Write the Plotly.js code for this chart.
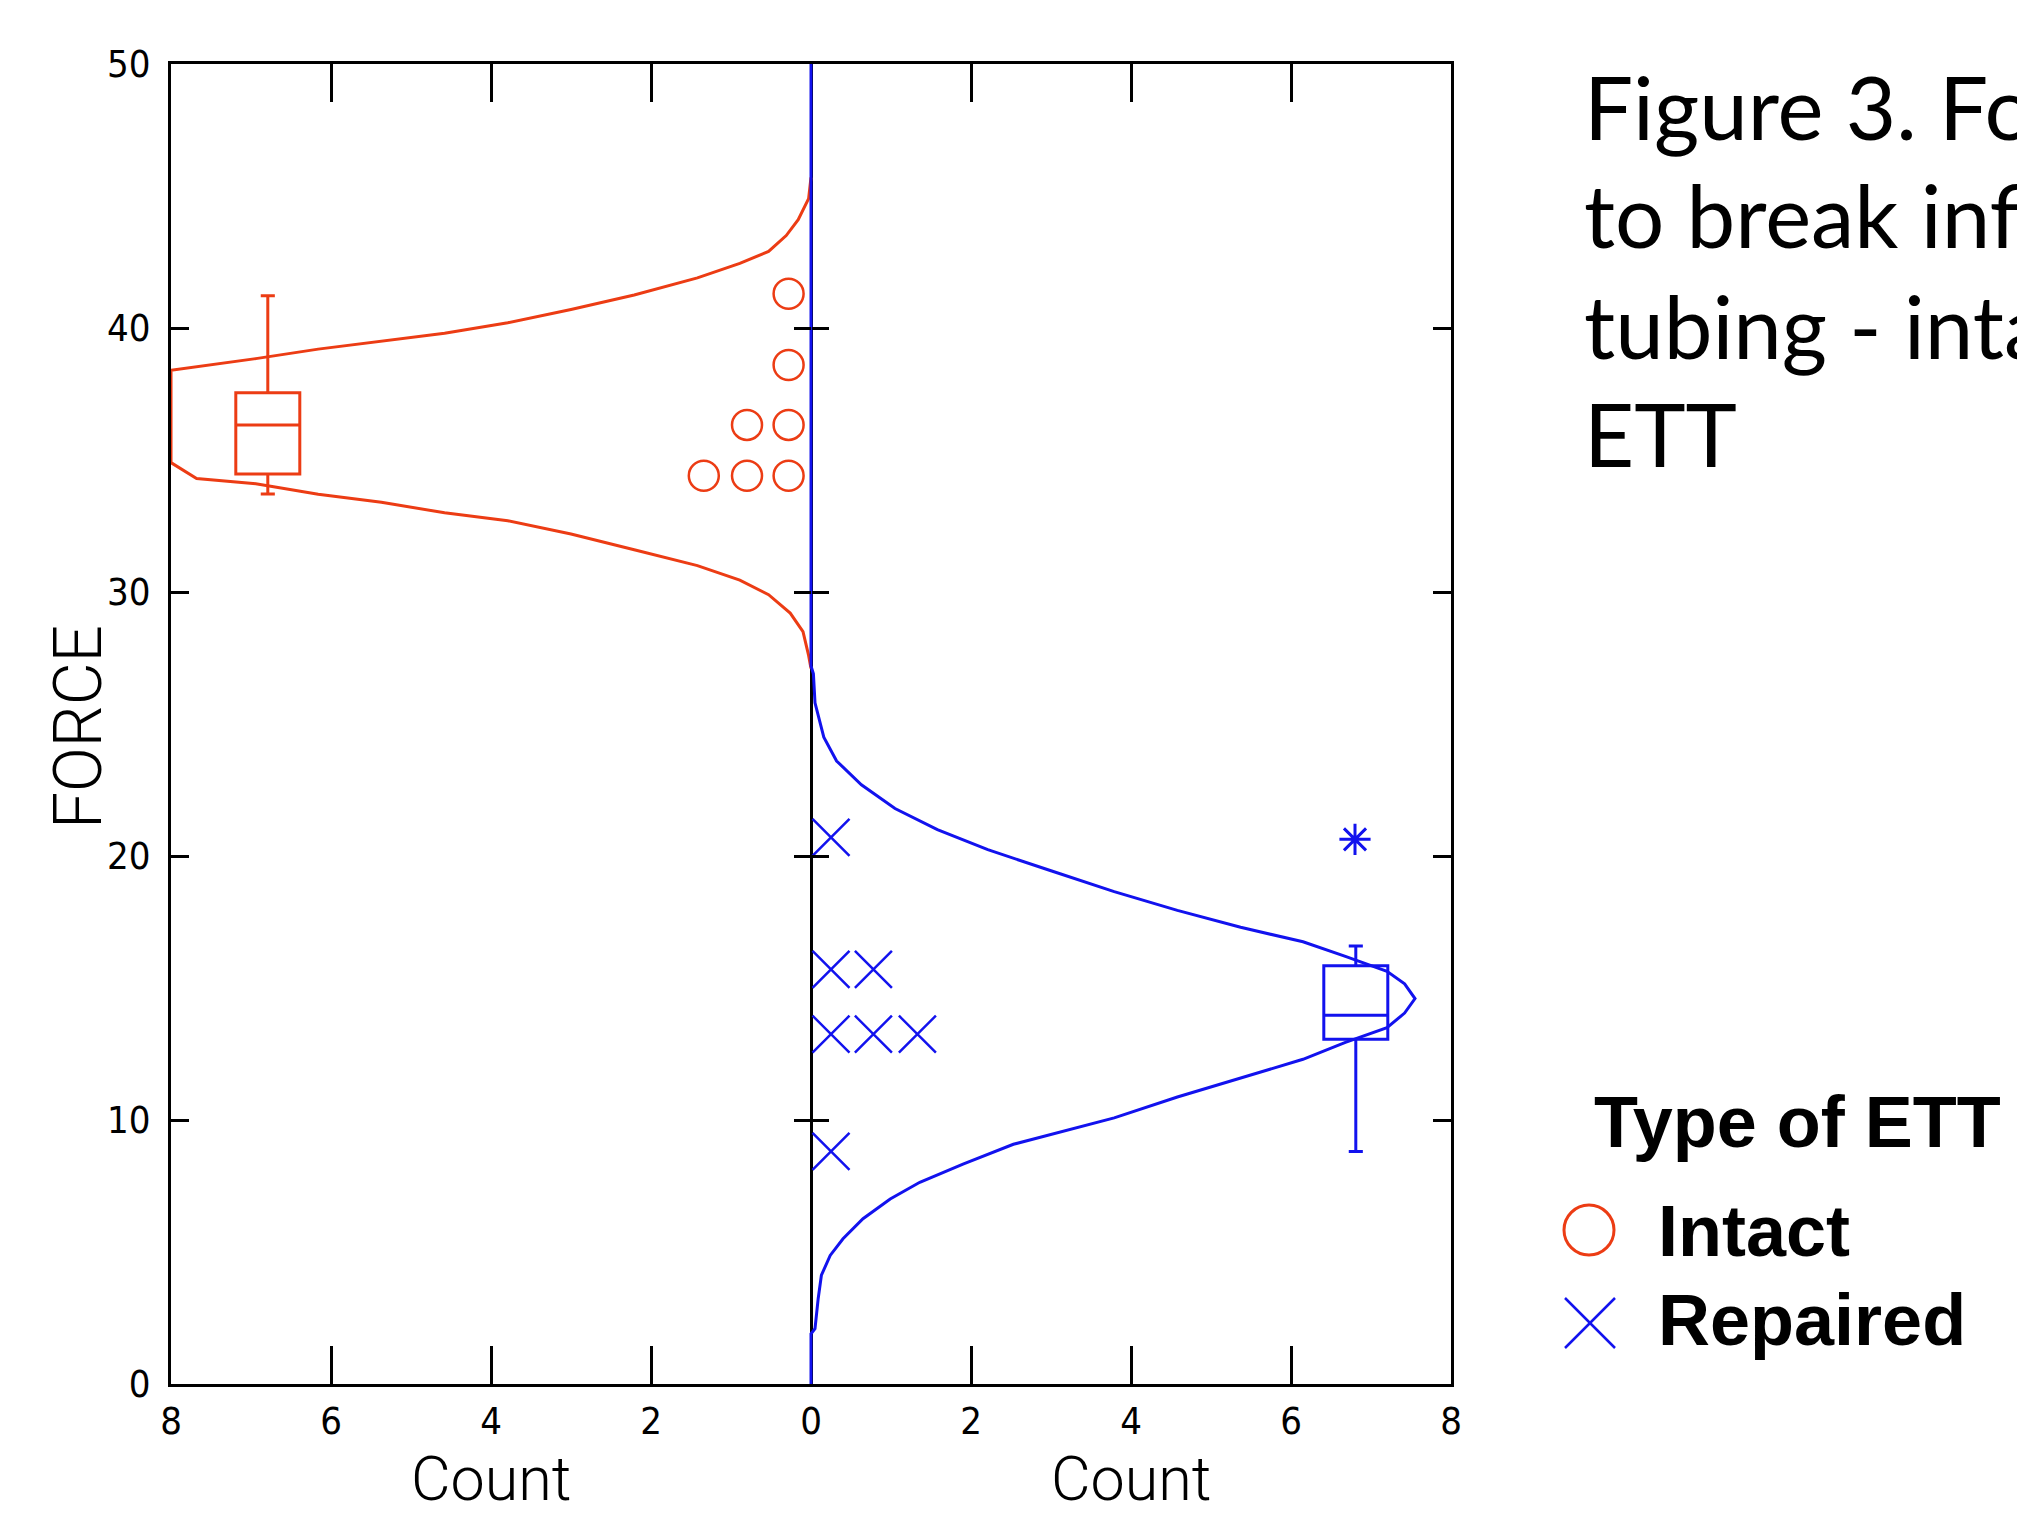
<!DOCTYPE html>
<html>
<head>
<meta charset="utf-8">
<script src="https://cdn.plot.ly/plotly-3.0.1.min.js"></script>
<style>
html,body{margin:0;padding:0;background:#fff;}
#chart{width:2017px;height:1513px;}
</style>
</head>
<body>
<div id="chart"></div>
<script>
// ---------------- data ----------------
// Intact ETT (left half, counts grow to the left)
const intactDotForce = [41.3, 38.6, 36.33, 36.33, 34.4, 34.4, 34.4];
const intactDotCount = [0.28, 0.28, 0.28, 0.80, 0.28, 0.80, 1.34];
const intactCurveCount = [0, 0.03, 0.16, 0.31, 0.53, 0.89, 1.42, 2.21, 3.00, 3.79, 4.58, 5.37, 6.16, 6.94, 8.00,
                          8.00, 7.68, 6.94, 6.16, 5.37, 4.58, 3.79, 3.00, 2.21, 1.42, 0.89, 0.53, 0.26, 0.10, 0.03, 0];
const intactCurveForce = [45.7, 44.9, 44.1, 43.5, 42.9, 42.45, 41.9, 41.25, 40.7, 40.2, 39.8, 39.5, 39.2, 38.84, 38.4,
                          34.9, 34.3, 34.1, 33.7, 33.4, 33.0, 32.7, 32.2, 31.6, 31.0, 30.45, 29.9, 29.2, 28.5, 27.6, 27.1];
const intactBoxPos = 6.79;
const intactBox = {lowerfence: 33.71, q1: 34.47, median: 36.33, q3: 37.55, upperfence: 41.22};

// Repaired ETT (right half)
const repairedDotForce = [20.71, 15.71, 15.71, 13.25, 13.25, 13.25, 8.81];
const repairedDotCount = [0.25, 0.25, 0.78, 0.25, 0.78, 1.33, 0.25];
const repairedCurveCount = [0, 0, 0.03, 0.05, 0.16, 0.32, 0.63, 1.05, 1.58, 2.21, 3.00, 3.79, 4.58, 5.37, 6.15, 6.68,
                            7.20, 7.42, 7.55, 7.42, 7.20, 6.68, 6.15, 5.37, 4.58, 3.79, 3.00, 2.53, 1.90, 1.36, 0.99,
                            0.65, 0.40, 0.24, 0.13, 0.09, 0.05, 0, 0];
const repairedCurveForce = [50, 27.2, 26.9, 25.8, 24.5, 23.6, 22.7, 21.8, 21.0, 20.24, 19.44, 18.65, 17.94, 17.3, 16.75, 16.2,
                            15.63, 15.16, 14.6, 14.05, 13.5, 12.94, 12.3, 11.59, 10.87, 10.08, 9.45, 9.08, 8.33, 7.64, 7.01,
                            6.26, 5.5, 4.87, 4.12, 3.24, 2.1, 1.9, 0];
const repairedBoxPos = 6.81;
const repairedBox = {lowerfence: 8.81, q1: 13.06, median: 13.97, q3: 15.84, upperfence: 16.59};
const repairedOutlierCount = [6.80];
const repairedOutlierForce = [20.63];

// axis ticks
const countTickVals = [-8, -6, -4, -2, 0, 2, 4, 6, 8];
const countTickText = ['8', '6', '4', '2', '0', '2', '4', '6', '8'];
const forceTickVals = [0, 10, 20, 30, 40, 50];
const innerForceTicks = [10, 20, 30, 40];

const captionLines = ['Figure 3. Force', 'to break inflation', 'tubing - intact vs. repaired', 'ETT'];
const legendTitle = 'Type of ETT';
const groupNames = ['Intact', 'Repaired'];
const yTitle = 'FORCE';
const xTitle = 'Count';

// ---------------- styling ----------------
const RED = '#EC3C14';
const BLUE = '#1212EE';
const L = 171, R = 1451, T = 64, B = 1384;
const px = v => (v - L) / (R - L);
const py = v => (B - v) / (B - T);
const neg = a => a.map(v => -v);

const traces = [
  { type: 'scatter', mode: 'lines', name: 'Intact curve',
    x: neg(intactCurveCount), y: intactCurveForce,
    line: {color: RED, width: 3}, hoverinfo: 'skip', showlegend: false },
  { type: 'scatter', mode: 'lines', name: 'Repaired curve',
    x: repairedCurveCount, y: repairedCurveForce,
    line: {color: BLUE, width: 3}, hoverinfo: 'skip', showlegend: false },
  { type: 'box', name: 'Intact box', x: [-intactBoxPos],
    q1: [intactBox.q1], median: [intactBox.median], q3: [intactBox.q3],
    lowerfence: [intactBox.lowerfence], upperfence: [intactBox.upperfence],
    width: 0.8, whiskerwidth: 0.22, boxpoints: false,
    line: {color: RED, width: 3}, fillcolor: 'rgba(0,0,0,0)', showlegend: false, hoverinfo: 'skip' },
  { type: 'box', name: 'Repaired box', x: [repairedBoxPos],
    q1: [repairedBox.q1], median: [repairedBox.median], q3: [repairedBox.q3],
    lowerfence: [repairedBox.lowerfence], upperfence: [repairedBox.upperfence],
    width: 0.8, whiskerwidth: 0.22, boxpoints: false,
    line: {color: BLUE, width: 3}, fillcolor: 'rgba(0,0,0,0)', showlegend: false, hoverinfo: 'skip' },
  { type: 'scatter', mode: 'markers', name: groupNames[0],
    x: neg(intactDotCount), y: intactDotForce,
    marker: {symbol: 'circle-open', size: 30, color: RED, line: {color: RED, width: 2.5}},
    showlegend: false },
  { type: 'scatter', mode: 'markers', name: groupNames[1],
    x: repairedDotCount, y: repairedDotForce,
    marker: {symbol: 'x-thin-open', size: 37, color: BLUE, line: {color: BLUE, width: 2.5}},
    showlegend: false },
  { type: 'scatter', mode: 'markers', name: 'Repaired outlier',
    x: repairedOutlierCount, y: repairedOutlierForce,
    marker: {symbol: 'asterisk-open', size: 26, color: BLUE, line: {color: BLUE, width: 3}},
    showlegend: false },
  // empty traces so the centre tick axes exist
  { type: 'scatter', x: [], y: [], yaxis: 'y2', showlegend: false, hoverinfo: 'skip' },
  { type: 'scatter', x: [], y: [], yaxis: 'y3', showlegend: false, hoverinfo: 'skip' }
];

const tickFont = {family: 'Liberation Sans Narrow, DejaVu Sans Condensed, Liberation Sans, Arial, sans-serif', size: 38, color: '#000'};
const titleFont = {family: 'Roboto, Liberation Sans, sans-serif', size: 61, color: '#000', weight: 300};
const legendFont = {family: 'Liberation Sans, Arial, sans-serif', size: 72, color: '#000', weight: 'bold'};

const centreAxis = (ticks) => ({
  overlaying: 'y', anchor: 'free', position: 0.5, side: 'left',
  range: [0, 50], tickvals: innerForceTicks, ticks: ticks, ticklen: 17, tickwidth: 3, tickcolor: '#000',
  showticklabels: false, showline: false, showgrid: false, zeroline: false, fixedrange: true
});

const annotations = [
  {text: xTitle, xref: 'x', yref: 'paper', x: -4, y: py(1479), xanchor: 'center', yanchor: 'middle',
   showarrow: false, font: titleFont},
  {text: xTitle, xref: 'x', yref: 'paper', x: 4, y: py(1479), xanchor: 'center', yanchor: 'middle',
   showarrow: false, font: titleFont},
  {text: yTitle, xref: 'paper', yref: 'paper', x: px(79), y: py(727), xanchor: 'center', yanchor: 'middle',
   textangle: -90, showarrow: false, font: {family: 'Roboto, Liberation Sans, sans-serif', size: 66, color: '#000', weight: 300}},
  {text: legendTitle, xref: 'paper', yref: 'paper', x: px(1592), y: py(1122), xanchor: 'left', yanchor: 'middle',
   showarrow: false, font: legendFont},
  {text: groupNames[0], xref: 'paper', yref: 'paper', x: px(1656), y: py(1231), xanchor: 'left', yanchor: 'middle',
   showarrow: false, font: legendFont},
  {text: groupNames[1], xref: 'paper', yref: 'paper', x: px(1656), y: py(1320), xanchor: 'left', yanchor: 'middle',
   showarrow: false, font: legendFont}
];
const captionCentres = [106, 215, 325, 433];
captionLines.forEach((t, i) => annotations.push({
  text: t, xref: 'paper', yref: 'paper', x: px(1582), y: py(captionCentres[i]), xanchor: 'left', yanchor: 'middle',
  showarrow: false, font: {family: 'Lato, Open Sans, sans-serif', size: 87, color: '#000'}
}));

const shapes = [
  {type: 'circle', xref: 'paper', yref: 'paper', x0: px(1564), x1: px(1614), y0: py(1255), y1: py(1205),
   line: {color: RED, width: 3}},
  {type: 'line', xref: 'paper', yref: 'paper', x0: px(1565), x1: px(1615), y0: py(1298), y1: py(1348),
   line: {color: BLUE, width: 2.5}},
  {type: 'line', xref: 'paper', yref: 'paper', x0: px(1565), x1: px(1615), y0: py(1348), y1: py(1298),
   line: {color: BLUE, width: 2.5}}
];

const layout = {
  width: 2017, height: 1513,
  margin: {l: L, r: 2017 - R, t: T, b: 1513 - B, pad: 0},
  paper_bgcolor: '#fff', plot_bgcolor: '#fff',
  showlegend: false,
  xaxis: {
    range: [-8, 8], tickvals: countTickVals, ticktext: countTickText,
    ticks: 'inside', ticklen: 38, tickwidth: 3, tickcolor: '#000',
    showline: true, linewidth: 3, linecolor: '#000', mirror: 'ticks',
    showgrid: false, zeroline: true, zerolinecolor: '#000', zerolinewidth: 3,
    layer: 'below traces', tickfont: tickFont, ticklabelstandoff: 1, fixedrange: true
  },
  yaxis: {
    range: [0, 50], tickvals: forceTickVals,
    ticks: 'inside', ticklen: 18, tickwidth: 3, tickcolor: '#000',
    showline: true, linewidth: 3, linecolor: '#000', mirror: 'ticks',
    showgrid: false, zeroline: false, layer: 'below traces',
    tickfont: tickFont, ticklabelstandoff: 10, fixedrange: true
  },
  yaxis2: centreAxis('outside'),
  yaxis3: centreAxis('inside'),
  annotations: annotations,
  shapes: shapes
};

Plotly.newPlot('chart', traces, layout, {staticPlot: true, displayModeBar: false});
</script>
</body>
</html>
